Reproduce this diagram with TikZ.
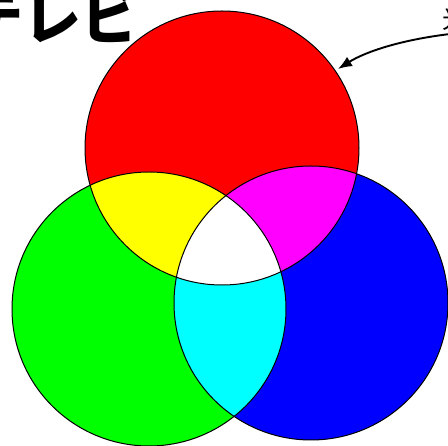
\documentclass[tikz,border=0pt]{standalone}
\usepackage{fontspec}
\newfontfamily\jp{Noto Sans CJK JP}
\usetikzlibrary{arrows.meta}
\definecolor{pRed}{RGB}{255,0,0}
\definecolor{pGreen}{RGB}{0,255,0}
\definecolor{pBlue}{RGB}{0,0,255}
\definecolor{pCyan}{RGB}{0,255,255}
\definecolor{pMagenta}{RGB}{255,0,255}
\definecolor{pYellow}{RGB}{255,255,0}
\begin{document}
\begin{tikzpicture}[x=1pt,y=-1pt,
  ring/.style={draw=black, line width=1pt},
  bigtext/.style={font=\jp\bfseries\fontsize{58}{58}\selectfont, anchor=base west, inner sep=0pt},
  smalltext/.style={font=\jp\fontsize{25}{25}\selectfont, anchor=base west, inner sep=0pt},
  pointer/.style={-{Latex[length=14pt,width=11pt]}, line width=1.9pt}]
\useasboundingbox (0,0) rectangle (448,446);
\clip (0,0) rectangle (448,446);
\coordinate (R) at (222,148);
\coordinate (G) at (149,309);
\coordinate (B) at (311,303);
\fill[pRed] (R) circle (137pt);
\fill[pGreen] (G) circle (137pt);
\fill[pBlue] (B) circle (137pt);
\begin{scope}
  \clip (G) circle (137pt);
  \fill[pCyan] (B) circle (137pt);
\end{scope}
\begin{scope}
  \clip (R) circle (137pt);
  \fill[pYellow] (G) circle (137pt);
  \fill[pMagenta] (B) circle (137pt);
  \clip (G) circle (137pt);
  \fill[white] (B) circle (137pt);
\end{scope}
\draw[ring] (R) circle (137pt);
\draw[ring] (G) circle (137pt);
\draw[ring] (B) circle (137pt);
\node[bigtext] (tv) at (-35,40) {テレビ};
\node[smalltext] (lbl) at (442,29) {光の三原色};
\coordinate (astart) at (450,34);
\coordinate (tip) at (338,69);
\draw[pointer] (astart) .. controls (400,40) and (365,52) .. (tip);
\end{tikzpicture}
\end{document}
